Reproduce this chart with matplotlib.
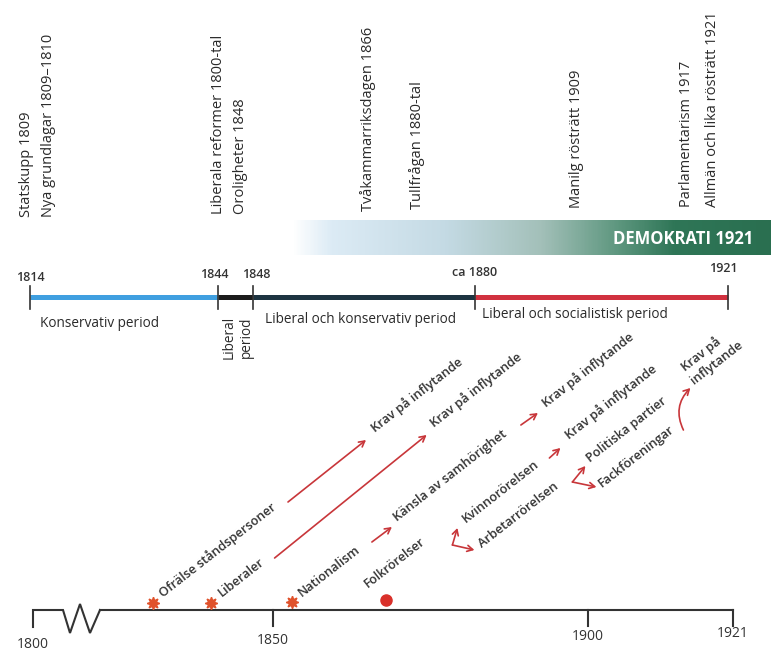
import numpy as np
import matplotlib
matplotlib.use("Agg")
import matplotlib.pyplot as plt
import matplotlib.transforms as mtransforms
from matplotlib.colors import LinearSegmentedColormap

plt.rcParams['font.family'] = ['Open Sans', 'DejaVu Sans']

# ---------------- data ----------------
events = ["Statskupp 1809", "Nya grundlagar 1809–1810",
          "Liberala reformer 1800-tal", "Oroligheter 1848",
          "Tvåkammarriksdagen 1866", "Tullfrågan 1880-tal",
          "Manilg rösträtt 1909", "Parlamentarism 1917",
          "Allmän och lika rösträtt 1921"]

period_bounds = [1814, 1844, 1848, 1880, 1921]
period_bound_labels = ["1814", "1844", "1848", "ca 1880", "1921"]
period_names = ["Konservativ period", "Liberal period",
                "Liberal och konservativ period",
                "Liberal och socialistisk period"]
period_colors = ["#3f9fe0", "#1c1c1c", "#1d3441", "#d1313f"]

band_label = "DEMOKRATI 1921"

bottom_ticks = [1800, 1850, 1900, 1921]
bottom_tick_labels = ["1800", "1850", "1900", "1921"]

origin_years = [1825, 1837, 1853, 1868]
origin_kinds = ["star", "star", "star", "dot"]

chain_texts = [
    ["Ofrälse ståndspersoner", "Krav på inflytande"],
    ["Liberaler", "Krav på inflytande"],
    ["Nationalism", "Känsla av samhörighet", "Krav på inflytande"],
    ["Folkrörelser", "Kvinnorörelsen", "Krav på inflytande",
     "Arbetarrörelsen", "Politiska partier", "Fackföreningar",
     "Krav på", "inflytande"],
]

# ---------------- layout (pixels) ----------------
W, H = 771, 652
event_x_px = [27, 48, 218, 240, 368, 417, 577, 687, 712]
event_base_px = [217, 217, 214, 214, 211, 209, 208, 207, 207]

# text offsets (dx, dy up) from origin marker, in pixels
chain_text_off = [
    [(10, 5), (222, 170)],
    [(11, 6), (224, 175)],
    [(10, 5), (105, 80), (254, 194)],
    [(-19, 12), (79, 77), (183, 160), (96, 52), (204, 137), (216, 112),
     (299, 228), (308, 215)],
]
# arrows: (tail, head, rad)
chain_arrows = [
    [((135, 101), (213, 163), 0)],
    [((64, 45), (216, 168), 0)],
    [((80, 60), (100, 75), 0), ((229, 177), (246, 189), 0)],
    [((66, 55), (71, 72), 0), ((66, 55), (88, 50), 0),
     ((163, 142), (174, 152), 0),
     ((186, 118), (199, 134), 0), ((186, 118), (210, 113), 0),
     ((297, 170), (304, 212), -0.35)],
]

fig = plt.figure(figsize=(W / 100, H / 100), dpi=100)
fig.patch.set_facecolor("white")


def make_scale(years, px):
    yrs = np.asarray(years, float)
    pxs = np.asarray(px, float)
    fwd = lambda v: np.interp(v, yrs, pxs)
    inv = lambda v: np.interp(v, pxs, yrs)
    return fwd, inv


# pixel layout axes
ax_px = fig.add_axes([0, 0, 1, 1])
ax_px.axis("off")

# top period axis
top_fwd, top_inv = make_scale([1700, 1814, 1844, 1848, 1880, 1921, 2000],
                              [-685, 30, 218, 253, 475, 728, 1215])
ax_t = fig.add_axes([0, 0, 1, 1])
ax_t.set_xscale("function", functions=(top_fwd, top_inv))
ax_t.set_xlim(top_inv(0), top_inv(W))
ax_t.set_ylim(H, 0)
ax_t.axis("off")
ax_t.patch.set_alpha(0)

# bottom axis
bot_fwd, bot_inv = make_scale([1700, 1800, 1850, 1900, 1921, 2000],
                              [-447, 33, 273, 588, 733, 1278])
ax_b = fig.add_axes([0, 0, 1, 1])
ax_b.set_xscale("function", functions=(bot_fwd, bot_inv))
ax_b.set_xlim(bot_inv(0), bot_inv(W))
ax_b.set_ylim(H, 0)
ax_b.axis("off")
ax_b.patch.set_alpha(0)

txt_col = "#2a2a2a"

# ---- event labels (vertical) ----
for lab, x, yb in zip(events, event_x_px, event_base_px):
    ax_px.text(x, yb, lab, rotation=90, rotation_mode="anchor",
               ha="left", va="center", fontsize=10.5, color=txt_col)

# ---- gradient band ----
cmap = LinearSegmentedColormap.from_list("demo", [
    (0.0, "#ffffff"), (0.08, "#dcebf5"), (0.32, "#c4dae4"),
    (0.52, "#a3c0b9"), (0.68, "#5e977f"), (0.80, "#2f7657"),
    (1.0, "#2a6f50")])
grad = np.linspace(0, 1, 400).reshape(1, -1)
ax_px.imshow(grad, extent=[292, W, 255, 220], aspect="auto", cmap=cmap,
             zorder=1, interpolation="bilinear")
ax_px.set_xlim(0, W)
ax_px.set_ylim(H, 0)
ax_px.text(683, 239, band_label, color="white", fontsize=12,
           fontweight="bold", ha="center", va="center", zorder=3)

# ---- period line ----
y_per = 297
for i in range(len(period_bounds) - 1):
    ax_t.plot([period_bounds[i], period_bounds[i + 1]], [y_per, y_per],
              color=period_colors[i], lw=3.6, solid_capstyle="butt", zorder=2)
for b in period_bounds:
    ax_t.plot([b, b], [286, 309], color="#333333", lw=1.2, zorder=3)
bound_label_y = [281, 278, 278, 276, 272]
bound_label_dx = [0, -0.6, 0.4, 0, -0.8]
for b, lab, ly, ddx in zip(period_bounds, period_bound_labels, bound_label_y,
                           bound_label_dx):
    ax_t.text(b + ddx, ly, lab, ha="center", va="baseline", fontsize=9,
              fontweight="semibold", color="#333")

# period names
pfs = 9.8
ax_px.text(40, 327, period_names[0], ha="left", va="baseline",
           fontsize=pfs, color=txt_col)
w1, w2 = period_names[1].split(" ")
ax_px.text(229, 316, w1, rotation=90, rotation_mode="anchor", ha="right",
           va="center", fontsize=pfs, color=txt_col)
ax_px.text(246, 316, w2, rotation=90, rotation_mode="anchor", ha="right",
           va="center", fontsize=pfs, color=txt_col)
ax_px.text(265, 323, period_names[2], ha="left", va="baseline",
           fontsize=pfs, color=txt_col)
ax_px.text(482, 318, period_names[3], ha="left", va="baseline",
           fontsize=pfs, color=txt_col)

# ---- bottom timeline ----
y_bot = 610
lc = "#333333"
zig_px = [(33, 627), (33, y_bot), (63, y_bot), (70, 633), (80, 604),
          (90, 633), (100, y_bot)]
ax_px.plot([p[0] for p in zig_px], [p[1] for p in zig_px], color=lc,
           lw=1.5, solid_joinstyle="miter")
ax_b.plot([bot_inv(100), bottom_ticks[-1]], [y_bot, y_bot], color=lc, lw=1.5)
for t in bottom_ticks[1:]:
    ax_b.plot([t, t], [y_bot, y_bot + 16], color=lc, lw=1.5)
label_y = [648, 644, 640, 637]
for t, lab, ly in zip(bottom_ticks, bottom_tick_labels, label_y):
    ax_b.text(t, ly, lab, ha="center", va="baseline", fontsize=10,
              color="#333")

# ---- origin markers & chains ----
y_mark = [603, 603, 602, 600]
red = "#c8363a"


def off(dx, dy):
    return mtransforms.offset_copy(ax_b.transData, fig=fig, x=dx, y=dy,
                                   units="dots")


for yr, kind, ym, texts, toffs, arrows in zip(
        origin_years, origin_kinds, y_mark, chain_texts, chain_text_off,
        chain_arrows):
    if kind == "star":
        ax_b.plot([yr], [ym], marker=(8, 1, 0), ms=9, color="#e0522b",
                  mec="#e0522b", zorder=4)
    else:
        ax_b.plot([yr], [ym], marker="o", ms=8, color="#d9302a", zorder=4)
    for t, (dx, dy) in zip(texts, toffs):
        ax_b.text(yr, ym, t, transform=off(dx, dy), rotation=38,
                  rotation_mode="anchor", ha="left", va="baseline",
                  fontsize=9.2, fontweight="semibold", color="#333333")
    for (tail, head, rad) in arrows:
        ax_b.annotate("", xy=(yr, ym), xycoords=off(*head),
                      xytext=(yr, ym), textcoords=off(*tail),
                      arrowprops=dict(arrowstyle="->,head_length=0.4,head_width=0.22",
                                      color=red, lw=1.2, shrinkA=0, shrinkB=0,
                                      connectionstyle=f"arc3,rad={rad}"))

fig.savefig("out.png", dpi=100, facecolor="white")
